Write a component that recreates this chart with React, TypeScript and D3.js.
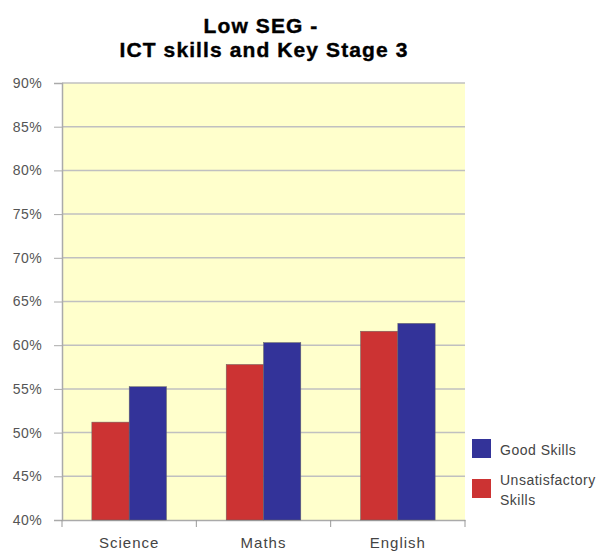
import React, { useEffect, useRef } from 'react'
import * as d3 from 'd3'

const categories = ['Science', 'Maths', 'English']
const series = ['Unsatisfactory Skills', 'Good Skills']
const unsatisfactory = [0.512, 0.578, 0.616]
const good = [0.5525, 0.603, 0.625]
const yTicks = [0.4, 0.45, 0.5, 0.55, 0.6, 0.65, 0.7, 0.75, 0.8, 0.85, 0.9]
const titleLines = ['Low SEG -', 'ICT skills and Key Stage 3']
const colors = ['#cc3333', '#333399']

const FONT = 'Arial, Liberation Sans, sans-serif'

export default function App() {
  const ref = useRef<SVGSVGElement>(null)

  useEffect(() => {
    const svg = d3.select(ref.current)
    svg.selectAll('*').remove()
    const margin = { top: 83, left: 62, right: 140, bottom: 31 }
    const width = 605 - margin.left - margin.right
    const height = 551 - margin.top - margin.bottom

    const x = d3.scaleBand().domain(categories).range([0, width]).paddingInner(0).paddingOuter(0)
    const x1 = d3.scaleBand().domain(series).range([0, x.bandwidth()]).paddingOuter(0.8).paddingInner(0)
    const y = d3.scaleLinear().domain([0.4, 0.9]).range([height, 0])

    // title
    svg.append('g')
      .attr('font-family', FONT)
      .attr('font-weight', 'bold')
      .attr('font-size', 21)
      .attr('letter-spacing', 1.1)
      .attr('text-anchor', 'middle')
      .attr('stroke', '#000').attr('stroke-width', 0.4)
      .selectAll('text')
      .data(titleLines)
      .enter().append('text')
      .attr('x', (d, i) => (i === 0 ? 261 : 264))
      .attr('y', (d, i) => 33 + i * 24)
      .text(d => d)

    const g = svg.append('g').attr('transform', `translate(${margin.left},${margin.top})`)

    g.append('rect').attr('width', width).attr('height', height).attr('fill', '#ffffcc')

    g.selectAll('.grid')
      .data(yTicks.slice(1))
      .enter().append('line')
      .attr('x1', 0).attr('x2', width)
      .attr('y1', d => y(d)).attr('y2', d => y(d))
      .attr('stroke', '#c0c0c0').attr('stroke-width', 1.5)

    const yAxis = g.append('g')
      .call(d3.axisLeft(y).tickValues(yTicks).tickFormat(d3.format('.0%')).tickSize(8).tickPadding(12))
    yAxis.select('.domain').attr('stroke', '#aaaaaa').attr('stroke-width', 1.5)
    yAxis.selectAll('line').attr('stroke', '#aaaaaa')
    yAxis.selectAll('text')
      .attr('font-family', FONT)
      .attr('font-size', 14).attr('letter-spacing', 0.4).attr('fill', '#555555')

    const xAxis = g.append('g').attr('transform', `translate(0,${height})`)
      .call(d3.axisBottom(x).tickSize(0).tickPadding(17))
    xAxis.select('.domain').attr('stroke', '#aaaaaa').attr('stroke-width', 1.5)
    xAxis.selectAll('text')
      .attr('font-family', FONT)
      .attr('font-size', 15).attr('letter-spacing', 1).attr('fill', '#444444')
    xAxis.selectAll('.sep')
      .data(categories.concat(['end']))
      .enter().append('line')
      .attr('class', 'sep')
      .attr('x1', (d, i) => i * x.bandwidth()).attr('x2', (d, i) => i * x.bandwidth())
      .attr('y1', 0).attr('y2', 7)
      .attr('stroke', '#999999')

    const values = [unsatisfactory, good]
    categories.forEach((c, ci) => {
      series.forEach((s, si) => {
        const v = values[si][ci]
        g.append('rect')
          .attr('x', (x(c) as number) + (x1(s) as number))
          .attr('y', y(v))
          .attr('width', x1.bandwidth())
          .attr('height', height - y(v))
          .attr('fill', colors[si])
          .attr('stroke', '#666666').attr('stroke-width', 0.5)
      })
    })

    // legend
    const legend = svg.append('g')
      .attr('font-family', FONT)
      .attr('font-size', 14).attr('letter-spacing', 0.5).attr('fill', '#444444')
    const items = [
      { color: colors[1], lines: ['Good Skills'], y: 439 },
      { color: colors[0], lines: ['Unsatisfactory', 'Skills'], y: 479 },
    ]
    items.forEach(it => {
      legend.append('rect').attr('x', 472).attr('y', it.y).attr('width', 19).attr('height', 19).attr('fill', it.color)
      it.lines.forEach((l, i) => {
        legend.append('text')
          .attr('x', 500)
          .attr('y', it.lines.length === 1 ? it.y + 16 : it.y + 6 + i * 20)
          .text(l)
      })
    })
  }, [])

  return <svg ref={ref} width={605} height={551} style={{ position: 'absolute', left: 0, top: 0 }} />
}
